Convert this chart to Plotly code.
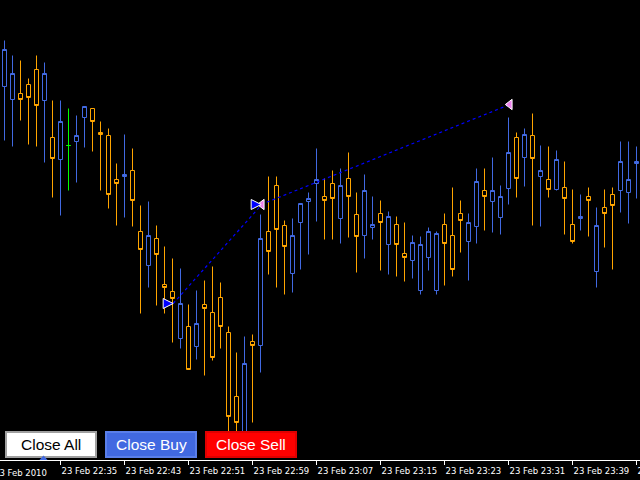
import plotly.graph_objects as go
import pandas as pd

BLUE = "#4169E1"
ORANGE = "#FFA500"
GREEN = "#00FF00"

# 1-minute bars, 23 Feb 2010 22:28 .. 23:47
times = pd.date_range("2010-02-23 22:28", periods=80, freq="min")

opens = [1.35913, 1.35900, 1.35906, 1.35915, 1.35930, 1.35899, 1.35862, 1.35840, 1.35854, 1.35858,
         1.35882, 1.35891, 1.35867, 1.35864, 1.35820, 1.35823, 1.35829, 1.35768, 1.35734, 1.35761,
         1.35715, 1.35708, 1.35661, 1.35673, 1.35653, 1.35695, 1.35687, 1.35702, 1.35667, 1.35603,
         1.35560, 1.35658, 1.35654, 1.35768, 1.35814, 1.35774, 1.35726, 1.35777, 1.35798, 1.35816,
         1.35803, 1.35816, 1.35781, 1.35821, 1.35785, 1.35764, 1.35772, 1.35786, 1.35755, 1.35775,
         1.35746, 1.35739, 1.35709, 1.35742, 1.35709, 1.35775, 1.35764, 1.35786, 1.35758, 1.35773,
         1.35809, 1.35798, 1.35782, 1.35811, 1.35862, 1.35842, 1.35864, 1.35823, 1.35820, 1.35810,
         1.35812, 1.35775, 1.35781, 1.35803, 1.35728, 1.35792, 1.35805, 1.35809, 1.35807, 1.35836]
highs = [1.35959, 1.35944, 1.35939, 1.35921, 1.35944, 1.35937, 1.35899, 1.35899, 1.35891, 1.35884,
         1.35893, 1.35891, 1.35878, 1.35871, 1.35836, 1.35865, 1.35851, 1.35794, 1.35798, 1.35774,
         1.35753, 1.35741, 1.35731, 1.35695, 1.35709, 1.35719, 1.35733, 1.35717, 1.35673, 1.35647,
         1.35663, 1.35665, 1.35785, 1.35823, 1.35823, 1.35779, 1.35781, 1.35796, 1.35807, 1.35851,
         1.35821, 1.35829, 1.35831, 1.35847, 1.35807, 1.35825, 1.35803, 1.35799, 1.35788, 1.35783,
         1.35777, 1.35764, 1.35763, 1.35772, 1.35768, 1.35786, 1.35812, 1.35799, 1.35786, 1.35831,
         1.35831, 1.35842, 1.35814, 1.35882, 1.35867, 1.35871, 1.35886, 1.35854, 1.35853, 1.35849,
         1.35838, 1.35810, 1.35805, 1.35812, 1.35792, 1.35810, 1.35812, 1.35858, 1.35858, 1.35853]
lows = [1.35859, 1.35853, 1.35879, 1.35855, 1.35853, 1.35837, 1.35802, 1.35784, 1.35809, 1.35817,
        1.35852, 1.35848, 1.35809, 1.35791, 1.35774, 1.35782, 1.35773, 1.35686, 1.35712, 1.35694,
        1.35686, 1.35657, 1.35651, 1.35630, 1.35640, 1.35624, 1.35639, 1.35651, 1.35558, 1.35558,
        1.35555, 1.35577, 1.35627, 1.35725, 1.35712, 1.35705, 1.35707, 1.35730, 1.35745, 1.35778,
        1.35760, 1.35760, 1.35756, 1.35762, 1.35727, 1.35741, 1.35760, 1.35729, 1.35725, 1.35723,
        1.35718, 1.35721, 1.35705, 1.35729, 1.35705, 1.35714, 1.35723, 1.35747, 1.35719, 1.35756,
        1.35769, 1.35767, 1.35765, 1.35795, 1.35802, 1.35813, 1.35774, 1.35773, 1.35802, 1.35809,
        1.35765, 1.35756, 1.35769, 1.35763, 1.35712, 1.35752, 1.35730, 1.35787, 1.35776, 1.35801]
closes = [1.35950, 1.35926, 1.35900, 1.35902, 1.35894, 1.35926, 1.35841, 1.35878, 1.35854, 1.35864,
          1.35893, 1.35878, 1.35865, 1.35805, 1.35816, 1.35825, 1.35799, 1.35750, 1.35764, 1.35745,
          1.35712, 1.35701, 1.35696, 1.35630, 1.35676, 1.35691, 1.35642, 1.35673, 1.35583, 1.35577,
          1.35636, 1.35654, 1.35761, 1.35748, 1.35770, 1.35753, 1.35764, 1.35796, 1.35801, 1.35820,
          1.35799, 1.35801, 1.35814, 1.35803, 1.35763, 1.35809, 1.35775, 1.35777, 1.35783, 1.35755,
          1.35742, 1.35757, 1.35755, 1.35768, 1.35766, 1.35756, 1.35730, 1.35779, 1.35777, 1.35818,
          1.35803, 1.35809, 1.35803, 1.35847, 1.35821, 1.35865, 1.35841, 1.35829, 1.35810, 1.35840,
          1.35801, 1.35758, 1.35783, 1.35799, 1.35774, 1.35786, 1.35794, 1.35838, 1.35820, 1.35838]

# orders: two buys, open -> close
trade_open_times = ["2010-02-23 22:49:05", "2010-02-23 23:00:05"]
trade_open_prices = [1.35696, 1.35795]
trade_close_times = ["2010-02-23 23:00:10", "2010-02-23 23:31:10"]
trade_close_prices = [1.35795, 1.35895]

tick_times = pd.date_range("2010-02-23 22:35", "2010-02-23 23:47", freq="8min")
tick_labels = [t.strftime("23 Feb %H:%M") for t in tick_times]
first_label = "23 Feb 2010"

buttons = ["Close All", "Close Buy", "Close Sell"]
button_fill = ["#FFFFFF", "#4169E1", "#FF0000"]
button_border = ["#A0A0A0", "#5A7FEA", "#E00000"]
button_text = ["#000000", "#FFFFFF", "#FFFFFF"]

W, H_PLOT = 640, 460
def px(x):
    return x / W
def py(y):
    return 1 - y / H_PLOT

fig = go.Figure()

normal = [i for i in range(len(times)) if opens[i] != closes[i]]
doji = [i for i in range(len(times)) if opens[i] == closes[i]]

fig.add_trace(go.Candlestick(
    x=[times[i] for i in normal],
    open=[opens[i] for i in normal], high=[highs[i] for i in normal],
    low=[lows[i] for i in normal], close=[closes[i] for i in normal],
    increasing=dict(line=dict(color=BLUE, width=1), fillcolor="black"),
    decreasing=dict(line=dict(color=ORANGE, width=1), fillcolor="black"),
    whiskerwidth=0, showlegend=False, hoverinfo="skip"))

fig.add_trace(go.Candlestick(
    x=[times[i] for i in doji],
    open=[opens[i] for i in doji], high=[highs[i] for i in doji],
    low=[lows[i] for i in doji], close=[closes[i] for i in doji],
    increasing=dict(line=dict(color=GREEN, width=1), fillcolor="black"),
    decreasing=dict(line=dict(color=GREEN, width=1), fillcolor="black"),
    whiskerwidth=0, showlegend=False, hoverinfo="skip"))

# dotted trade lines
for ot, op, ct, cp in zip(trade_open_times, trade_open_prices, trade_close_times, trade_close_prices):
    fig.add_trace(go.Scatter(x=[ot, ct], y=[op, cp], mode="lines",
                             line=dict(color="#0000FF", width=1.2, dash="dot"),
                             showlegend=False, hoverinfo="skip"))

fig.add_trace(go.Scatter(x=trade_close_times, y=trade_close_prices, mode="markers",
                         marker=dict(symbol="triangle-left", size=9, color="#EE82EE",
                                     line=dict(color="white", width=1)),
                         showlegend=False, hoverinfo="skip"))
fig.add_trace(go.Scatter(x=trade_open_times, y=trade_open_prices, mode="markers",
                         marker=dict(symbol="arrow-right", size=10, color="#0000FF",
                                     line=dict(color="white", width=1)),
                         showlegend=False, hoverinfo="skip"))

shapes = []
annotations = []
bx = [(6, 96), (106, 196), (206, 296)]
for (x0, x1), label, fc, bc, tc in zip(bx, buttons, button_fill, button_border, button_text):
    shapes.append(dict(type="rect", xref="paper", yref="paper",
                       x0=px(x0), x1=px(x1), y0=py(457), y1=py(432),
                       fillcolor=fc, line=dict(color=bc, width=2), layer="above"))
    annotations.append(dict(xref="paper", yref="paper", x=px((x0 + x1) / 2), y=py(444.5),
                            text=label, showarrow=False, xanchor="center", yanchor="middle",
                            font=dict(family="Arial", size=15.5, color=tc)))

# chart shift marker
shapes.append(dict(type="path", xref="paper", yref="paper",
                   path=f"M {px(39.5)} {py(460)} L {px(47.5)} {py(460)} L {px(43.5)} {py(455.5)} Z",
                   fillcolor=BLUE, line=dict(color=BLUE, width=0), layer="above"))

annotations.append(dict(xref="paper", yref="paper", x=px(-8), y=0, yshift=-6,
                        text=first_label, showarrow=False, xanchor="left", yanchor="top",
                        font=dict(family="DejaVu Sans", size=8.5, color="white")))

fig.update_layout(
    width=640, height=480,
    margin=dict(l=0, r=0, t=0, b=20, pad=0),
    paper_bgcolor="black", plot_bgcolor="black",
    boxgap=0.5, boxgroupgap=0,
    shapes=shapes, annotations=annotations,
    xaxis=dict(type="date", range=["2010-02-23 22:27:26.25", "2010-02-23 23:47:26.25"],
               automargin=False,
               rangeslider=dict(visible=False), showgrid=False, zeroline=False,
               showline=True, linecolor="white", linewidth=1,
               ticks="outside", tickcolor="white", ticklen=4, tickwidth=1,
               tickvals=list(tick_times), ticktext=tick_labels, tickangle=0,
               ticklabelposition="outside right", ticklabeloverflow="allow",
               ticklabelstandoff=3,
               tickfont=dict(family="DejaVu Sans", size=8.5, color="white")),
    yaxis=dict(visible=False, range=[1.355395, 1.359995], fixedrange=True, automargin=False),
)

fig.write_html("out.html", config={"displayModeBar": False},
               post_script="document.body.style.margin='0';document.body.style.background='black';")
